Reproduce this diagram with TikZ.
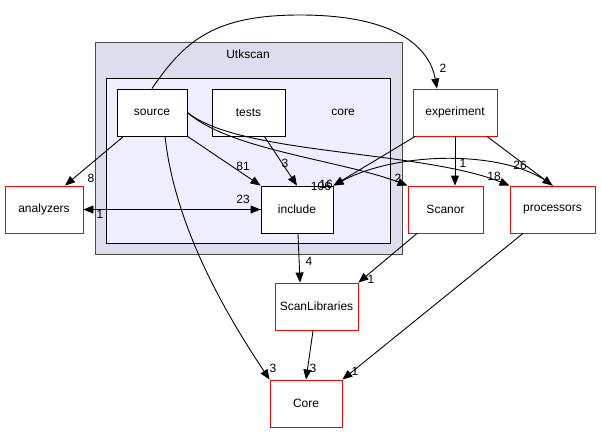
\documentclass[tikz,border=0pt]{standalone}
\usepackage{fontspec}
\setmainfont{Liberation Sans}
\usetikzlibrary{arrows.meta}
\begin{document}
\begin{tikzpicture}[x=1pt,y=-1pt,font=\fontsize{12}{14}\selectfont,
 box/.style={draw=black,fill=white,minimum width=#1,minimum height=47pt,inner sep=0pt,line width=0.9pt},
 rbox/.style={draw=red,fill=white,minimum width=#1,minimum height=47pt,inner sep=0pt,line width=0.9pt},
 e/.style={-{Triangle[length=10pt,width=8pt]},line width=0.9pt},
 lb/.style={inner sep=1pt,font=\fontsize{12}{14}\selectfont}]
\useasboundingbox (0,0) rectangle (601,431);
\draw[fill={rgb,255:red,221;green,221;blue,238},draw=black!70,line width=0.9pt] (95,42) rectangle (402,254);
\node at (248,54) {Utkscan};
\draw[fill={rgb,255:red,238;green,238;blue,255},draw=black,line width=0.9pt] (106,78) rectangle (390,243);
\node at (343,112) {core};
\node[box=70pt] (source) at (152,112.5) {source};
\node[box=73pt] (tests) at (248.5,112.5) {tests};
\node[box=72pt] (include) at (297,209.5) {include};
\node[rbox=78pt] (analyzers) at (44,209.5) {analyzers};
\node[rbox=84pt] (experiment) at (455,112.5) {experiment};
\node[rbox=75pt] (Scanor) at (445.5,209.5) {Scanor};
\node[rbox=85pt] (processors) at (552.5,209.5) {processors};
\node[rbox=83pt] (ScanLibraries) at (316.5,306.5) {ScanLibraries};
\node[rbox=72pt] (Core) at (306,403.5) {Core};
\draw[e] (source.north) .. controls (185,40) and (215,15) .. (300,15) .. controls (400,15) and (430,50) .. (experiment.north west -| 437,0);
\node[lb] at (443,68) {2};
\draw[e] (source) -- (analyzers.north east -| 65,0);
\node[lb] at (91,178) {8};
\draw[e] (source) -- (include.north west);
\node[lb] at (243,166) {81};
\draw[e] (source.east) .. controls (230,150) and (340,160) .. (Scanor.north west);
\node[lb] at (398,178) {2};
\draw[e] (source.east) .. controls (240,155) and (420,150) .. (processors.north west);
\node[lb] at (494,176) {18};
\draw[e] (165,136) .. controls (175,230) and (230,320) .. (Core.north west);
\node[lb] at (273,368) {3};
\draw[e] (tests) -- (include.north);
\node[lb] at (285,163) {3};
\draw[e] (include.west) -- (analyzers.east);
\node[lb] at (100,214) {1};
\draw[e] (analyzers.east) -- (include.west);
\node[lb] at (243,199) {23};
\draw[e] (include) -- (ScanLibraries.north -| 300,0);
\node[lb] at (309,261) {4};
\draw[e] (experiment) -- (include.north east);
\node[lb] at (321,186) {106};
\draw[e] (experiment) -- (Scanor.north -| 455,0);
\node[lb] at (463,163) {1};
\draw[e] (experiment) -- (processors.north);
\node[lb] at (520,165) {26};
\draw[e] (processors.north) .. controls (510,150) and (400,150) .. (include.north east);
\node[lb] at (326,184) {16};
\draw[e] (Scanor) -- (ScanLibraries.north east);
\node[lb] at (371,279) {1};
\draw[e] (ScanLibraries) -- (Core.north -| 306,0);
\node[lb] at (313,368) {3};
\draw[e] (processors) -- (Core.north east);
\node[lb] at (355,371) {1};
\end{tikzpicture}
\end{document}
